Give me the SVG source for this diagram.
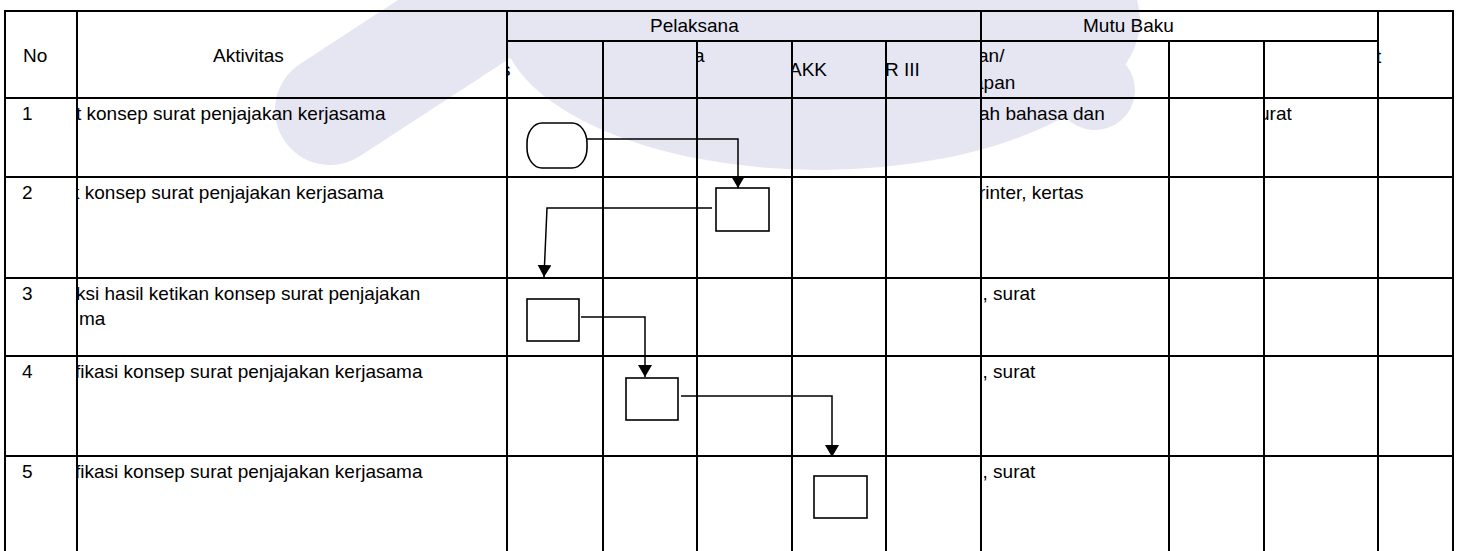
<svg xmlns="http://www.w3.org/2000/svg" width="1459" height="551" viewBox="0 0 1459 551">
<style>
.t{font-family:"Liberation Sans",Arial,sans-serif;font-size:19px;fill:#000}
.grid line{stroke:#000;stroke-width:2}
.wm{fill:#e6e6f3}
.wms{stroke:#e6e6f3;stroke-linecap:round;fill:none}
.box{fill:#fff;stroke:#000;stroke-width:1.6}
.conn{fill:none;stroke:#000;stroke-width:1.5}
</style>
<defs>
<marker id="arr" viewBox="0 0 12 14" refX="12" refY="7" markerWidth="12" markerHeight="14" markerUnits="userSpaceOnUse" orient="auto">
<path d="M0,0 L12,7 L0,14 z" fill="#000"/>
</marker>
<clipPath id="cAkt"><rect x="78" y="0" width="428" height="551"/></clipPath>
<clipPath id="cP1"><rect x="508" y="0" width="94" height="551"/></clipPath>
<clipPath id="cP3"><rect x="698" y="0" width="93" height="551"/></clipPath>
<clipPath id="cP4"><rect x="793" y="0" width="92" height="551"/></clipPath>
<clipPath id="cP5"><rect x="887" y="0" width="93" height="551"/></clipPath>
<clipPath id="cM1"><rect x="982" y="0" width="186" height="551"/></clipPath>
<clipPath id="cM3"><rect x="1265" y="0" width="112" height="551"/></clipPath>
<clipPath id="cK"><rect x="1379" y="0" width="73" height="551"/></clipPath>
</defs>
<rect width="1459" height="551" fill="#fff"/>
<g id="watermark">
<ellipse class="wm" cx="820" cy="20" rx="320" ry="150"/>
<line class="wms" x1="330" y1="110" x2="560" y2="-40" stroke-width="110"/>
<line class="wms" x1="1000" y1="-20" x2="1095" y2="90" stroke-width="80"/>
</g>
<g class="grid" id="table">
<line x1="4" y1="11" x2="1454" y2="11"/>
<line x1="507" y1="41" x2="1378" y2="41"/>
<line x1="4" y1="98" x2="1454" y2="98"/>
<line x1="4" y1="177" x2="1454" y2="177"/>
<line x1="4" y1="278" x2="1454" y2="278"/>
<line x1="4" y1="356" x2="1454" y2="356"/>
<line x1="4" y1="456" x2="1454" y2="456"/>
<line x1="5" y1="10" x2="5" y2="551"/>
<line x1="77" y1="10" x2="77" y2="551"/>
<line x1="507" y1="10" x2="507" y2="551"/>
<line x1="981" y1="10" x2="981" y2="551"/>
<line x1="1378" y1="10" x2="1378" y2="551"/>
<line x1="1453" y1="10" x2="1453" y2="551"/>
<line x1="603" y1="41" x2="603" y2="551"/>
<line x1="697" y1="41" x2="697" y2="551"/>
<line x1="792" y1="41" x2="792" y2="551"/>
<line x1="886" y1="41" x2="886" y2="551"/>
<line x1="1169" y1="41" x2="1169" y2="551"/>
<line x1="1264" y1="41" x2="1264" y2="551"/>
</g>
<g id="header-text">
<text class="t" x="23" y="62">No</text>
<text class="t" x="213" y="62">Aktivitas</text>
<text class="t" x="650" y="32">Pelaksana</text>
<text class="t" x="1083" y="32">Mutu Baku</text>
<text class="t" x="501" y="76" clip-path="url(#cP1)">s</text>
<text class="t" x="694" y="62" clip-path="url(#cP3)">a</text>
<text class="t" x="789" y="76" clip-path="url(#cP4)">AKK</text>
<text class="t" x="885" y="76" clip-path="url(#cP5)">R III</text>
<text class="t" x="978" y="62" clip-path="url(#cM1)">an/</text>
<text class="t" x="973" y="89" clip-path="url(#cM1)">apan</text>
<text class="t" x="1376" y="63" clip-path="url(#cK)">t</text>
</g>
<g id="rows-text">
<text class="t" x="22" y="120">1</text>
<text class="t" x="76" y="120" clip-path="url(#cAkt)">t konsep surat penjajakan kerjasama</text>
<text class="t" x="979" y="120" clip-path="url(#cM1)">ah bahasa dan</text>
<text class="t" x="1259" y="120" clip-path="url(#cM3)">urat</text>
<text class="t" x="22" y="199">2</text>
<text class="t" x="70" y="199" clip-path="url(#cAkt)">k konsep surat penjajakan kerjasama</text>
<text class="t" x="979" y="199" clip-path="url(#cM1)">rinter, kertas</text>
<text class="t" x="22" y="300">3</text>
<text class="t" x="76" y="300" clip-path="url(#cAkt)">ksi hasil ketikan konsep surat penjajakan</text>
<text class="t" x="79" y="325" clip-path="url(#cAkt)">ma</text>
<text class="t" x="972" y="300" clip-path="url(#cM1)">n, surat</text>
<text class="t" x="22" y="378">4</text>
<text class="t" x="75" y="378" clip-path="url(#cAkt)">fikasi konsep surat penjajakan kerjasama</text>
<text class="t" x="972" y="378" clip-path="url(#cM1)">n, surat</text>
<text class="t" x="22" y="478">5</text>
<text class="t" x="75" y="478" clip-path="url(#cAkt)">fikasi konsep surat penjajakan kerjasama</text>
<text class="t" x="972" y="478" clip-path="url(#cM1)">n, surat</text>
</g>
<g id="connectors">
<path class="conn" d="M587,139 H738 V188" marker-end="url(#arr)"/>
<path class="conn" d="M712,208 H547 L544,277" marker-end="url(#arr)"/>
<path class="conn" d="M581,317 H645 V377" marker-end="url(#arr)"/>
<path class="conn" d="M681,396 H832 V457" marker-end="url(#arr)"/>
</g>
<g id="node-start"><rect class="box" x="527" y="123" width="60" height="45" rx="15" ry="20"/></g>
<g id="node-2"><rect class="box" x="716" y="188" width="53" height="43"/></g>
<g id="node-3"><rect class="box" x="527" y="299" width="52" height="42"/></g>
<g id="node-4"><rect class="box" x="626" y="378" width="52" height="42"/></g>
<g id="node-5"><rect class="box" x="814" y="476" width="53" height="42"/></g>
</svg>
